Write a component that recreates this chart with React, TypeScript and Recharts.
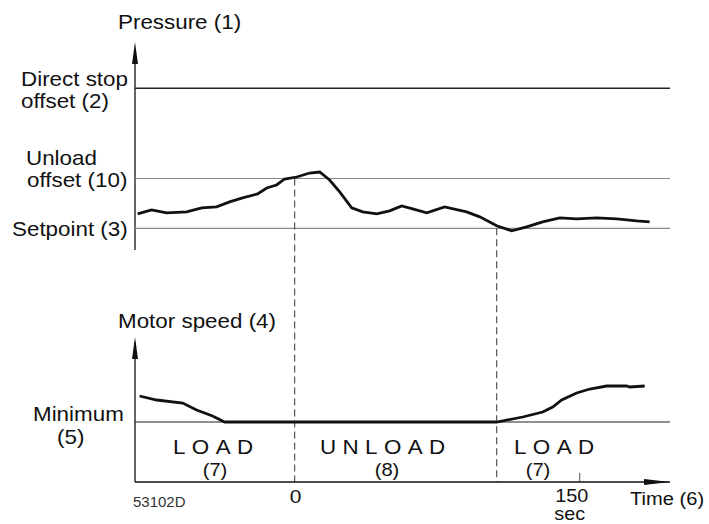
import React from "react";
import { LineChart, Line, XAxis, YAxis, ReferenceLine, ReferenceDot } from "recharts";

// ---- data (time in s, pressure relative: setpoint = 0, unload offset = 1) ----
const pressureTimes = [-82.6, -75.3, -67.4, -56.8, -48.9, -41.1, -34.2, -27.4, -19.5, -14.7, -9.5, -5.3, 1.1, 7.9, 13.2, 18.4, 23.7, 30.0, 35.8, 43.2, 50.0, 56.3, 62.1, 69.5, 78.9, 90.5, 97.4, 106.3, 114.2, 122.1, 130.5, 139.5, 148.4, 158.9, 169.5, 180.0, 186.8];
const pressureValues = [0.29, 0.37, 0.31, 0.33, 0.41, 0.43, 0.53, 0.61, 0.69, 0.81, 0.87, 0.99, 1.03, 1.11, 1.13, 0.97, 0.73, 0.41, 0.33, 0.29, 0.35, 0.45, 0.39, 0.31, 0.43, 0.33, 0.23, 0.05, -0.05, 0.03, 0.13, 0.21, 0.19, 0.21, 0.19, 0.15, 0.13];

// motor speed relative to minimum (arbitrary units)
const motorTimes = [-81.6, -72.6, -58.9, -51.6, -43.2, -36.8, 106.3, 120, 130.5, 135.8, 140.5, 148.4, 155.3, 164.2, 174.7, 176.3, 184.2];
const motorValues = [26, 22, 19, 12, 6, 0, 0, 5, 10, 15, 22, 29, 33, 36, 36, 35, 36];

const levels = { directStop: 2.81, unload: 1, setpoint: 0 };
const motorMinimum = 0;
const unloadStart = 0;
const loadStart = 106.3;
const timeTicks = [0, 150];

const X_DOMAIN: [number, number] = [-84, 197.5];
const P_DOMAIN: [number, number] = [-5.094, 3.781];
const M_DOMAIN: [number, number] = [-60, 382];

const pressureData = pressureTimes.map((t, i) => ({ t, p: pressureValues[i] }));
const motorData = motorTimes.map((t, i) => ({ t, m: motorValues[i] }));

const FONT = "'Liberation Sans', Arial, Helvetica, sans-serif";

const UpArrow = (props: any) => {
  const { cx, cy } = props;
  return <polygon points={`${cx},${cy} ${cx - 3},${cy + 22} ${cx + 3},${cy + 22}`} fill="#111" />;
};
const RightArrow = (props: any) => {
  const { cx, cy } = props;
  return <polygon points={`${cx},${cy} ${cx - 26},${cy - 3} ${cx - 26},${cy + 3}`} fill="#111" />;
};

const TimeTick = (props: any) => {
  const { x, y, payload } = props;
  if (payload.value === 150) {
    return (
      <g>
        <text transform={`translate(${x - 8},${y + 12}) scale(1.1,1)`} textAnchor="middle" fontSize={18} fill="#111" fontFamily={FONT}>150</text>
        <text transform={`translate(${x - 10},${y + 30}) scale(1.1,1)`} textAnchor="middle" fontSize={18} fill="#111" fontFamily={FONT}>sec</text>
      </g>
    );
  }
  return (
    <text transform={`translate(${x + 1},${y + 13}) scale(1.1,1)`} textAnchor="middle" fontSize={19} fill="#111" fontFamily={FONT}>{payload.value}</text>
  );
};

function T({ x, y, children, size = 20, anchor = "start", sx = 1.12, ls = 0, fill = "#111" }: any) {
  return (
    <text
      transform={`translate(${x},${y}) scale(${sx},1)`}
      textAnchor={anchor}
      fontSize={size}
      fill={fill}
      fontFamily={FONT}
      letterSpacing={ls}
    >
      {children}
    </text>
  );
}

export default function App() {
  return (
    <div style={{ position: "absolute", left: 0, top: 0, width: 709, height: 524, background: "#fff" }}>
      <LineChart
        width={709}
        height={524}
        margin={{ top: 40, right: 39, bottom: 12, left: 135 }}
        style={{ position: "absolute", left: 0, top: 0 }}
      >
        <XAxis
          dataKey="t"
          type="number"
          domain={X_DOMAIN}
          allowDataOverflow
          ticks={timeTicks}
          height={30}
          axisLine={{ stroke: "#111", strokeWidth: 1.3 }}
          tickLine={false}
          tick={<TimeTick />}
          interval={0}
        />
        <YAxis yAxisId="p" hide type="number" domain={P_DOMAIN} allowDataOverflow />
        <YAxis yAxisId="m" hide type="number" domain={M_DOMAIN} allowDataOverflow />

        {/* pressure panel axis */}
        <ReferenceLine yAxisId="p" ifOverflow="visible" stroke="#111" strokeWidth={1.3}
          segment={[{ x: X_DOMAIN[0], y: -0.436 }, { x: X_DOMAIN[0], y: 3.6 }]} />
        <ReferenceDot yAxisId="p" x={X_DOMAIN[0]} y={3.74} ifOverflow="visible" shape={<UpArrow />} />

        {/* motor panel axis */}
        <ReferenceLine yAxisId="m" ifOverflow="visible" stroke="#111" strokeWidth={1.3}
          segment={[{ x: X_DOMAIN[0], y: -60 }, { x: X_DOMAIN[0], y: 80 }]} />
        <ReferenceDot yAxisId="m" x={X_DOMAIN[0]} y={85} ifOverflow="visible" shape={<UpArrow />} />
        <ReferenceDot yAxisId="m" x={X_DOMAIN[1]} y={-60} ifOverflow="visible" shape={<RightArrow />} />
        <ReferenceLine yAxisId="m" ifOverflow="visible" stroke="#555" strokeWidth={1}
          segment={[{ x: 150, y: -60 }, { x: 150, y: -51 }]} />

        {/* pressure levels */}
        <ReferenceLine yAxisId="p" y={levels.directStop} stroke="#222" strokeWidth={1.5} />
        <ReferenceLine yAxisId="p" y={levels.unload} stroke="#888" strokeWidth={1.2} />
        <ReferenceLine yAxisId="p" y={levels.setpoint} stroke="#888" strokeWidth={1.2} />
        <ReferenceLine yAxisId="m" y={motorMinimum} stroke="#222" strokeWidth={1.2} />

        {/* phase boundaries */}
        <ReferenceLine yAxisId="p" ifOverflow="visible" stroke="#555" strokeWidth={1.2} strokeDasharray="7 4"
          segment={[{ x: unloadStart, y: levels.unload }, { x: unloadStart, y: P_DOMAIN[0] }]} />
        <ReferenceLine yAxisId="p" ifOverflow="visible" stroke="#555" strokeWidth={1.2} strokeDasharray="7 4"
          segment={[{ x: loadStart, y: levels.setpoint }, { x: loadStart, y: P_DOMAIN[0] }]} />

        <Line yAxisId="p" data={pressureData} dataKey="p" type="linear" stroke="#111" strokeWidth={2.8}
          dot={false} activeDot={false} isAnimationActive={false} />
        <Line yAxisId="m" data={motorData} dataKey="m" type="linear" stroke="#111" strokeWidth={2.8}
          dot={false} activeDot={false} isAnimationActive={false} />
      </LineChart>

      <svg width={709} height={524} style={{ position: "absolute", left: 0, top: 0, pointerEvents: "none" }}>
        <T x={118} y={29}>Pressure (1)</T>
        <T x={21} y={86}>Direct stop</T>
        <T x={21} y={108}>offset (2)</T>
        <T x={26} y={165}>Unload</T>
        <T x={27} y={187}>offset (10)</T>
        <T x={12} y={236}>Setpoint (3)</T>
        <T x={118} y={328}>Motor speed (4)</T>
        <T x={33} y={421}>Minimum</T>
        <T x={57} y={444}>(5)</T>
        <T x={173} y={454} ls={5.7}>LOAD</T>
        <T x={215} y={476} size={18} anchor="middle">(7)</T>
        <T x={320} y={454} ls={5.7}>UNLOAD</T>
        <T x={387} y={476} size={18} anchor="middle">(8)</T>
        <T x={514} y={454} ls={5.7}>LOAD</T>
        <T x={538} y={476} size={18} anchor="middle">(7)</T>
        <T x={630} y={505} size={19} sx={1.06}>Time (6)</T>
        <T x={133} y={507} size={15} sx={1.0} fill="#333">53102D</T>
      </svg>
    </div>
  );
}
